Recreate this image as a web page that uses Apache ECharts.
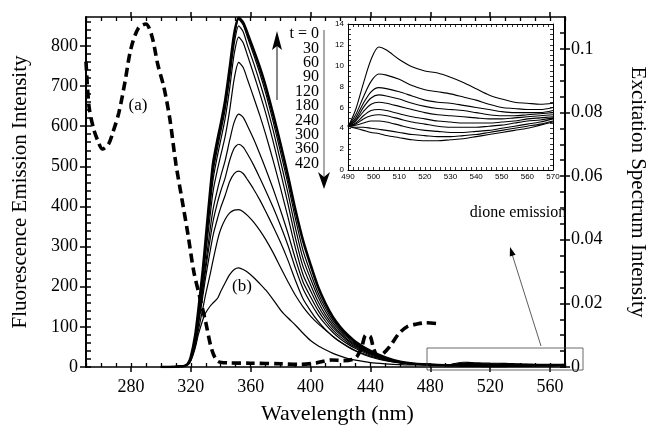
<!DOCTYPE html>
<html><head><meta charset="utf-8">
<script src="https://cdn.jsdelivr.net/npm/echarts@6/dist/echarts.min.js"></script>
<style>html,body{margin:0;padding:0;background:#fff}#c{width:649px;height:427px}</style>
</head><body><div id="c"></div>
<script>
// ---------- DATA ----------
// emission spectra wavelengths (nm)
const emWl = [300,315,318,320,323,325,328,330,333,335,338,340,343,346,349,352,355,358,362,366,370,375,380,385,390,395,400,405,410,415,420,425,430,440,450,460,470,480];
const em_t0   = [0,2,8,25,80,140,240,320,440,510,570,605,665,745,830, 870,858,830,790,748,700,630,555,475,390,315,255,200,158,124,99,79,63,40,24,13,8,6];
const em_t30  = [0,2,8,24,78,138,236,315,432,500,560,598,658,738,822, 866,852,820,778,733,683,612,535,455,368,290,235,185,147,116,93,75,60,38,23,13,8,6];
const em_t60  = [0,2,8,24,76,135,232,308,420,488,548,585,642,720,805, 850,835,800,757,710,660,590,512,432,345,270,220,175,139,110,89,72,57,36,22,12,8,6];
const em_t90  = [0,2,8,23,74,132,226,298,405,470,530,565,620,695,780, 822,808,775,730,683,633,562,485,405,320,250,205,163,130,104,84,68,55,35,21,12,8,6];
const em_t120 = [0,2,8,22,70,126,215,282,380,440,495,527,575,640,718, 759,746,715,672,628,580,515,445,372,295,230,190,152,122,98,80,65,52,34,21,12,8,6];
const em_t180 = [0,2,7,20,65,115,198,258,345,395,445,475,515,565,610, 630,622,600,568,532,494,444,390,332,268,212,175,141,114,92,75,61,49,32,20,11,7,6];
const em_t240 = [0,2,7,19,62,110,188,245,320,365,412,438,472,515,545, 555,548,530,503,472,440,398,352,302,245,195,160,130,106,86,70,57,46,30,19,11,7,6];
const em_t300 = [0,2,7,18,58,102,175,225,290,330,372,397,428,462,482, 488,482,466,443,417,388,350,310,265,215,170,140,114,93,76,62,51,41,27,17,10,7,5];
const em_t360 = [0,2,6,16,52,90,145,182,232,268,318,343,368,384,391, 392,387,377,361,341,318,285,248,212,178,150,127,108,92,76,62,50,40,25,16,10,7,5];
const em_t420 = [0,2,5,15,48,80,117,135,152,160,172,188,210,230,243, 247,243,236,223,208,192,168,142,122,104,84,66,53,43,34,27,21,17,11,8,6,5,5];

// dione emission (inset) wavelengths and curves
const insetWl = [490,493,496,499,502,505,510,515,520,525,530,535,540,545,550,555,560,565,570];
const dione_t420 = [4.1,5.8,8.3,10.6,11.8,11.5,10.6,9.9,9.5,9.3,8.9,8.4,7.8,7.2,6.8,6.5,6.4,6.3,6.4];
const dione_t360 = [4.2,5.3,7.0,8.5,9.2,9.1,8.7,8.1,7.7,7.5,7.3,7.0,6.7,6.3,6.0,5.9,5.8,5.8,6.0];
const dione_t300 = [4.2,5.0,6.4,7.5,7.9,7.8,7.5,7.1,6.7,6.5,6.4,6.2,6.0,5.8,5.6,5.5,5.5,5.5,5.7];
const dione_t240 = [4.2,4.8,6.0,6.9,7.2,7.1,6.8,6.4,6.1,5.9,5.8,5.7,5.5,5.3,5.2,5.2,5.3,5.4,5.5];
const dione_t180 = [4.2,4.7,5.6,6.3,6.5,6.4,6.1,5.8,5.5,5.3,5.2,5.1,5.0,4.9,4.9,5.0,5.1,5.2,5.3];
const dione_t120 = [4.2,4.5,5.2,5.7,5.8,5.7,5.4,5.1,4.9,4.7,4.6,4.5,4.5,4.5,4.6,4.7,4.9,5.0,5.1];
const dione_t90  = [4.2,4.4,4.9,5.2,5.3,5.2,4.9,4.6,4.4,4.2,4.1,4.1,4.1,4.2,4.3,4.5,4.7,4.8,5.0];
const dione_t60  = [4.2,4.3,4.5,4.7,4.7,4.6,4.3,4.0,3.8,3.7,3.6,3.6,3.7,3.8,4.0,4.2,4.4,4.6,4.9];
const dione_t30  = [4.2,4.1,4.1,4.0,3.9,3.8,3.6,3.4,3.3,3.2,3.2,3.3,3.4,3.6,3.8,4.0,4.2,4.4,4.7];
const dione_t0   = [4.2,4.0,3.8,3.6,3.5,3.3,3.1,2.9,2.8,2.8,2.9,3.0,3.2,3.4,3.6,3.8,4.0,4.3,4.6];

// excitation spectrum (a)
const exWl  = [250,252,255,258,261,265,268,272,276,280,285,290,294,298,302,306,310,314,318,322,326,330,334,338,345,360,380,393,404,414,422,430,434,437,440,442,445,448,453,459,465,470,477,486];
const exVal = [0.096,0.082,0.075,0.071,0.0685,0.070,0.0738,0.080,0.0895,0.100,0.1065,0.1078,0.104,0.095,0.088,0.078,0.064,0.053,0.042,0.030,0.022,0.014,0.0055,0.0018,0.0013,0.0012,0.0010,0.0008,0.0013,0.0022,0.0020,0.0028,0.006,0.0100,0.0095,0.006,0.0035,0.004,0.0065,0.0105,0.0128,0.0134,0.0139,0.0136];

// tick labels
const xTickLabels = [280,320,360,400,440,480,520,560];
const yTickLabels = [0,100,200,300,400,500,600,700,800];
const rTickLabels = [0,0.02,0.04,0.06,0.08,0.1];
const insetXTicks = [490,500,510,520,530,540,550,560,570];
const insetYTicks = [0,2,4,6,8,10,12,14];
const timeLabels = ["t = 0","30","60","90","120","180","240","300","360","420"];

// ---------- BUILD ----------
const emCurves = [em_t0,em_t30,em_t60,em_t90,em_t120,em_t180,em_t240,em_t300,em_t360,em_t420];
const dioneCurves = [dione_t0,dione_t30,dione_t60,dione_t90,dione_t120,dione_t180,dione_t240,dione_t300,dione_t360,dione_t420];

const xMinor = []; for (let v = 250; v <= 570; v += 10) xMinor.push(v);
const yMinor = []; for (let v = 0; v <= 860; v += 20) yMinor.push(v);
const rMinor = []; for (let k = 0; k <= 21; k++) rMinor.push(+(k*0.005).toFixed(3));
const iXMinor = []; for (let v = 490; v <= 570; v += 2) iXMinor.push(v);
const iYMinor = []; for (let k = 0; k <= 28; k++) iYMinor.push(k*0.5);

const F = 'Liberation Serif';
const S = 'Liberation Sans';
const black = '#000';
const none = {show:false};

function majorX(pos, labels){
  return {gridIndex:0, type:'value', position:pos, min:250, max:570,
    axisLine:{show:true, onZero:false, lineStyle:{color:black, width:1.5}},
    axisTick:{show:true, inside:false, length:5, customValues:xTickLabels, lineStyle:{color:black, width:1.5}},
    axisLabel: labels ? {show:true, customValues:xTickLabels, color:black, fontFamily:F, fontSize:18, margin:11} : none,
    splitLine:none};
}
function minorX(pos){
  return {gridIndex:0, type:'value', position:pos, min:250, max:570,
    axisLine:{show:false, onZero:false}, axisTick:{show:true, inside:true, length:4, customValues:xMinor, lineStyle:{color:black, width:1.3}},
    axisLabel:none, splitLine:none};
}
function insetX(pos, labels){
  return {gridIndex:1, type:'value', position:pos, min:490, max:570,
    axisLine:{show:true, onZero:false, lineStyle:{color:black, width:1}},
    axisTick:{show:true, inside:true, length:3, customValues:iXMinor, lineStyle:{color:black, width:0.8}},
    axisLabel: labels ? {show:true, customValues:insetXTicks, color:black, fontFamily:S, fontSize:8, margin:3} : none,
    splitLine:none};
}
function insetY(pos, labels){
  return {gridIndex:1, type:'value', position:pos, min:0, max:14,
    axisLine:{show:true, onZero:false, lineStyle:{color:black, width:1}},
    axisTick:{show:true, inside:true, length:3, customValues:iYMinor, lineStyle:{color:black, width:0.8}},
    axisLabel: labels ? {show:true, customValues:insetYTicks, color:black, fontFamily:S, fontSize:8, margin:4} : none,
    splitLine:none};
}

const xAxes = [
  Object.assign(majorX('bottom', true), {name:'Wavelength (nm)', nameLocation:'middle', nameGap:36,
    nameTextStyle:{fontFamily:F, fontSize:22, color:black, padding:[0,0,0,24]}}),
  minorX('bottom'), majorX('top', false), minorX('top'),
  insetX('bottom', true), insetX('top', false)
];
const yAxes = [
  {gridIndex:0, type:'value', position:'left', min:0, max:872,
    axisLine:{show:true, onZero:false, lineStyle:{color:black, width:2}},
    axisTick:{show:true, inside:false, length:6, customValues:yTickLabels, lineStyle:{color:black, width:1.5}},
    axisLabel:{show:true, customValues:yTickLabels, color:black, fontFamily:F, fontSize:18, margin:8},
    splitLine:none,
    name:'Fluorescence Emission Intensity', nameLocation:'middle', nameGap:55,
    nameTextStyle:{fontFamily:F, fontSize:21, color:black}},
  {gridIndex:0, type:'value', position:'left', min:0, max:872,
    axisLine:{show:false, onZero:false}, axisTick:{show:true, inside:true, length:5, customValues:yMinor, lineStyle:{color:black, width:1.5}},
    axisLabel:none, splitLine:none},
  {gridIndex:0, type:'value', position:'right', min:0, max:0.11,
    axisLine:{show:true, onZero:false, lineStyle:{color:black, width:2}},
    axisTick:{show:true, inside:false, length:5, customValues:rTickLabels, lineStyle:{color:black, width:1.5}},
    axisLabel:{show:true, customValues:rTickLabels, color:black, fontFamily:F, fontSize:18, margin:6,
      formatter: v => String(+(+v).toFixed(3))},
    splitLine:none,
    name:'Excitation Spectrum Intensity', nameLocation:'middle', nameGap:62, nameRotate:-90,
    nameTextStyle:{fontFamily:F, fontSize:21, color:black}},
  {gridIndex:0, type:'value', position:'right', min:0, max:0.11,
    axisLine:{show:false, onZero:false}, axisTick:{show:true, inside:true, length:5, customValues:rMinor, lineStyle:{color:black, width:1.5}},
    axisLabel:none, splitLine:none},
  insetY('left', true), insetY('right', false)
];

const series = [];
emCurves.forEach((arr, i) => {
  const tail = dioneCurves[i];
  const data = emWl.map((w, k) => [w, arr[k]]).concat(insetWl.map((w, k) => [w, tail[k]]));
  series.push({type:'line', name:'t'+i, xAxisIndex:0, yAxisIndex:0, data, symbol:'none', smooth:0.25,
    lineStyle:{color:black, width: i === 0 ? 2.6 : 1.2}, silent:true, z:3});
});
series.push({type:'line', name:'excitation', xAxisIndex:0, yAxisIndex:2,
  data: exWl.map((w, k) => [w, exVal[k]]), symbol:'none', smooth:0.3,
  lineStyle:{color:black, width:3.6, type:[9,5], cap:'butt'}, silent:true, z:4});
dioneCurves.forEach((arr, i) => {
  series.push({type:'line', name:'d'+i, xAxisIndex:4, yAxisIndex:4,
    data: insetWl.map((w, k) => [w, arr[k]]), symbol:'none', smooth:0.3,
    lineStyle:{color:black, width:1.1}, silent:true, z:5});
});

const txt = (x, y, text, size, align) => ({type:'text', z:50, style:{x, y, text, fill:black,
  font: size + 'px "' + F + '"', textAlign:align || 'center', align:align || 'center',
  textVerticalAlign:'middle', verticalAlign:'middle'}});

const graphics = [];
timeLabels.forEach((t, i) => graphics.push(txt(319, 34 + i * 14.4, t, 16, 'right')));
graphics.push(txt(138, 106, '(a)', 17));
graphics.push(txt(242, 287, '(b)', 17));
graphics.push(txt(518, 213, 'dione emission', 16));
// up arrow
graphics.push({type:'line', z:50, shape:{x1:277, y1:100, x2:277, y2:46}, style:{stroke:'#888', lineWidth:2}});
graphics.push({type:'polygon', z:51, shape:{points:[[277,31],[282,50],[277,46],[272,50]]}, style:{fill:black}});
// down arrow (bracket line)
graphics.push({type:'line', z:50, shape:{x1:324, y1:30, x2:324, y2:178}, style:{stroke:'#555', lineWidth:1}});
graphics.push({type:'polygon', z:51, shape:{points:[[324,189],[318,172],[324,177],[330,172]]}, style:{fill:black}});
// dione box + arrow
graphics.push({type:'rect', z:50, shape:{x:427, y:348, width:156, height:22}, style:{fill:'none', stroke:'#444', lineWidth:0.8}});
graphics.push({type:'line', z:50, shape:{x1:541, y1:346, x2:512, y2:254}, style:{stroke:'#333', lineWidth:0.8}});
graphics.push({type:'polygon', z:51, shape:{points:[[510,247],[515.6,254.7],[509.8,256.5]]}, style:{fill:black}});

const option = {
  backgroundColor:'#fff',
  animation:false,
  grid:[
    {left:86, right:84, top:17, bottom:60, containLabel:false, outerBoundsMode:'none'},
    {left:348, top:24, width:205, height:146, containLabel:false, outerBoundsMode:'none'}
  ],
  xAxis: xAxes,
  yAxis: yAxes,
  series,
  graphic: graphics
};
const chart = echarts.init(document.getElementById('c'), null, {renderer:'canvas'});
chart.setOption(option);
</script>
</body></html>
